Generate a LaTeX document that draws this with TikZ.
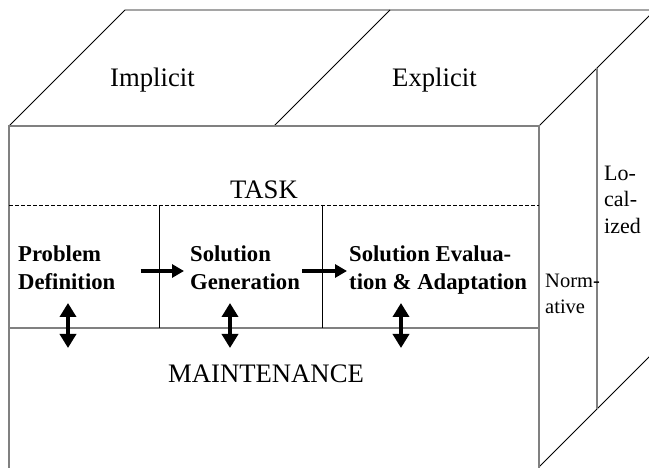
\documentclass[tikz,border=0pt]{standalone}
\usepackage{fontspec}
\setmainfont{Liberation Serif}
\usetikzlibrary{arrows.meta}
\begin{document}
\begin{tikzpicture}[x=1pt,y=-1pt,
  faceedge/.style={draw=black!50, line width=1.4pt},
  thinedge/.style={draw=black, line width=0.9pt},
  dashedge/.style={draw=black, line width=0.9pt, dash pattern=on 3.5pt off 2.5pt},
  flowarrow/.style={line width=4.5pt, -{Triangle[length=12pt,width=13pt]}},
  linkarrow/.style={line width=3.5pt, {Triangle[length=14pt,width=16pt]}-{Triangle[length=14pt,width=16pt]}},
  lbl/.style={inner sep=0pt, font=\fontsize{26.7}{30}\selectfont},
  stage/.style={inner sep=0pt, align=left, font=\fontsize{22.7}{28}\selectfont\bfseries},
  sidelbl/.style={inner sep=0pt, align=left, font=\fontsize{22}{27}\selectfont},
  normlbl/.style={inner sep=0pt, align=left, font=\fontsize{20.5}{25}\selectfont},
]
\useasboundingbox (0,0) rectangle (649,468);
\clip (0,0) rectangle (649,468);

% top face of the box, split into two halves
\draw[thinedge] (9,126) -- (125,10) -- (670,10);
\draw[thinedge] (274,126) -- (390,10);
\draw[thinedge] (539,126) -- (670,-5);
% right face
\draw[thinedge] (539,467) -- (670,336);
\draw[faceedge] (597,68) -- (597,409);
% front face
\draw[faceedge] (9,480) -- (9,126) -- (539,126) -- (539,480);
\draw[faceedge] (9,328) -- (539,328);
\draw[dashedge] (9,205) -- (539,205);
\draw[thinedge] (159,205) -- (159,328);
\draw[thinedge] (322,205) -- (322,328);

% labels (multi-line nodes are placed by the baseline of their last line)
\node[lbl, anchor=base] (impl) at (152.5,87) {Implicit};
\node[lbl, anchor=base] (expl) at (434.5,87) {Explicit};
\node[lbl, anchor=base] (task) at (264,199) {TASK};
\node[lbl, anchor=base] (maint) at (266,382) {MAINTENANCE};
\node[sidelbl, anchor=base west] (loc) at (604,234) {Lo-\\cal-\\ized};
\node[normlbl, anchor=base west] (norm) at (545,313) {Norm-\\ative};

% process stages
\node[stage, anchor=base west] (pd) at (18,290) {Problem\\Definition};
\node[stage, anchor=base west] (sg) at (190,290) {Solution\\Generation};
\node[stage, anchor=base west] (se) at (349,290) {Solution Evalua-\\tion \& Adaptation};

% flow between stages
\coordinate (flowrow) at (0,271);
\draw[flowarrow, shorten <=25pt, shorten >=6pt] (pd.east |- flowrow) -- (sg.west |- flowrow);
\draw[flowarrow, shorten <=2pt, shorten >=2pt] (sg.east |- flowrow) -- (se.west |- flowrow);

% links between the task stages and maintenance
\coordinate (pdtop) at (68,303);
\coordinate (pdbot) at (68,348);
\coordinate (sgtop) at (230,303);
\coordinate (sgbot) at (230,348);
\coordinate (setop) at (401,303);
\coordinate (sebot) at (401,348);
\draw[linkarrow] (pdtop) -- (pdbot);
\draw[linkarrow] (sgtop) -- (sgbot);
\draw[linkarrow] (setop) -- (sebot);
\end{tikzpicture}
\end{document}
